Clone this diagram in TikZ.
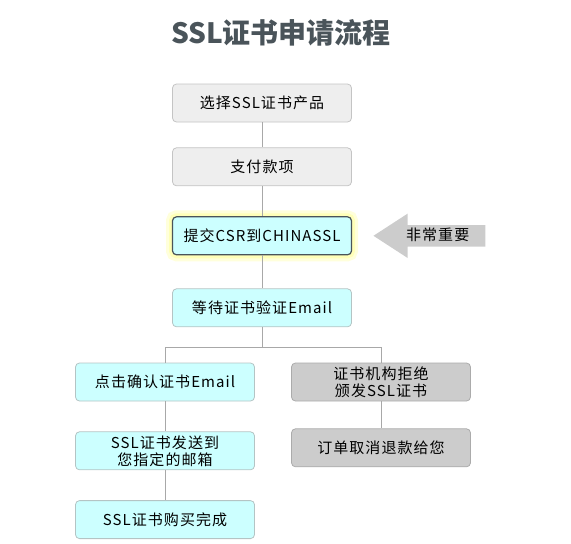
\documentclass[tikz,border=0pt]{standalone}
\usepackage{fontspec}
\newfontfamily\cjk{Noto Sans CJK SC}
\newfontfamily\boxfont{Noto Sans CJK SC}[LetterSpace=7]
\usetikzlibrary{positioning,shapes.arrows}
\definecolor{titlegray}{HTML}{4A545A}
\definecolor{linegray}{HTML}{A8A8A8}
\definecolor{lightfill}{HTML}{EEEEEE}
\definecolor{lightline}{HTML}{C4C4C4}
\definecolor{cyanfill}{HTML}{CCFFFF}
\definecolor{cyanline}{HTML}{B4C4C4}
\definecolor{darkfill}{HTML}{CCCCCC}
\definecolor{darkline}{HTML}{ABABAB}
\definecolor{glowline}{HTML}{FFFF99}
\tikzset{
  box/.style={draw, rounded corners=4pt, line width=0.8pt, minimum width=179pt,
    minimum height=38pt, align=center, text=black,
    font=\boxfont\fontsize{15}{17}\selectfont},
  plain/.style={box, fill=lightfill, draw=lightline},
  todo/.style={box, fill=cyanfill, draw=cyanline},
  fail/.style={box, fill=darkfill, draw=darkline},
  key/.style={box, fill=cyanfill, draw=titlegray, line width=1.2pt,
    preaction={draw=glowline!35, line width=13pt},
    preaction={draw=glowline!70, line width=7pt}},
  imp/.style={single arrow, fill=darkfill, draw=none, shape border rotate=180,
    minimum height=112pt, minimum width=44pt, single arrow tip angle=66,
    single arrow head extend=11.5pt, inner xsep=6pt, inner ysep=4pt,
    text height=11pt, text depth=2pt, font=\boxfont\fontsize{15}{17}\selectfont},
  link/.style={draw=linegray, line width=0.8pt}
}
\begin{document}
\begin{tikzpicture}[x=1pt, y=1pt]
  \useasboundingbox (0,0) rectangle (571,-544);
  \node (title) [font=\cjk\bfseries\fontsize{28}{30}\selectfont, text=titlegray] at (281,-33) {SSL证书申请流程};

  \node (sel) [plain] at (262,-103) {选择SSL证书产品};
  \node (pay) [plain, below=25pt of sel] {支付款项};
  \node (csr) [key, below=30pt of pay] {提交CSR到CHINASSL};
  \node (wait) [todo, below=33pt of csr] {等待证书验证Email};
  \node (imp) [imp, anchor=tip] at ([xshift=21pt]csr.east) {非常重要};

  \node (click) [todo] at (165,-382) {点击确认证书Email};
  \node (send) [todo, below=30pt of click] {SSL证书发送到\\您指定的邮箱};
  \node (done) [todo, below=30pt of send] {SSL证书购买完成};
  \node (deny) [fail] at (381,-382) {证书机构拒绝\\颁发SSL证书};
  \node (refund) [fail, below=27pt of deny] {订单取消退款给您};

  \coordinate (fork) at ([yshift=-20pt]wait.south);

  \draw[link] (sel) -- (pay);
  \draw[link] (pay) -- (csr);
  \draw[link] (csr) -- (wait);
  \draw[link] (wait) -- (fork);
  \draw[link] (fork) -| (click);
  \draw[link] (fork) -| (deny);
  \draw[link] (click) -- (send);
  \draw[link] (send) -- (done);
  \draw[link] (deny) -- (refund);
\end{tikzpicture}
\end{document}
